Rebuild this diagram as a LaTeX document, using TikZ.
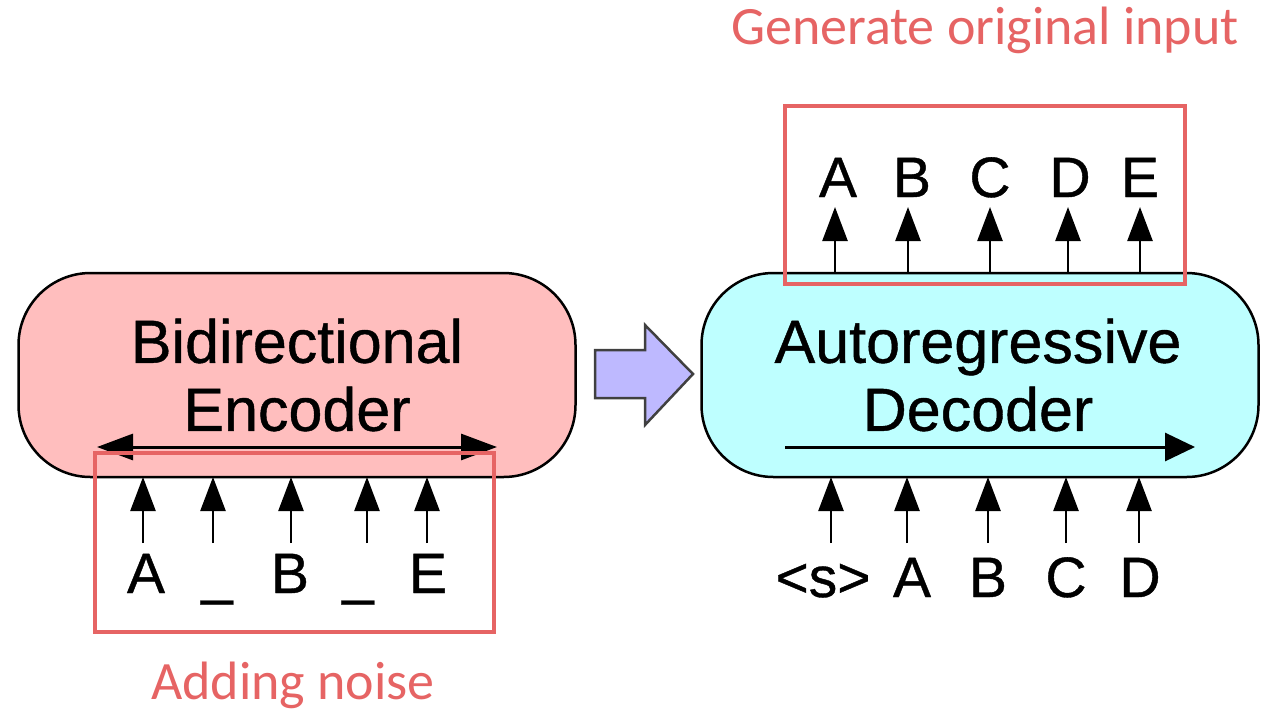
\documentclass[tikz,border=0pt]{standalone}
\usepackage{fontspec}
\setmainfont{Liberation Sans}
\newfontfamily\calfont{Carlito}
\newfontfamily\heavyfont{Liberation Sans}[FakeBold=0.7]
\usetikzlibrary{arrows.meta}
\definecolor{encfill}{RGB}{255,190,190}
\definecolor{decfill}{RGB}{190,255,255}
\definecolor{arrfill}{RGB}{190,185,255}
\definecolor{noisered}{RGB}{230,100,100}
\begin{document}
\begin{tikzpicture}[x=1pt,y=-1pt,
  blockbox/.style={draw=black, line width=2.5pt, rounded corners=72pt, minimum width=557pt, minimum height=204pt, inner sep=0pt},
  blocktext/.style={font=\heavyfont\fontsize{61}{68}\selectfont, align=center, inner sep=0pt},
  tok/.style={font=\heavyfont\fontsize{57}{60}\selectfont, text height=54pt, text depth=10pt, inner sep=0pt, anchor=base},
  tokarrow/.style={line width=2.5pt, -{Triangle[length=34pt,width=25pt]}},
  flowline/.style={line width=3pt},
  redbox/.style={draw=noisered, line width=4pt, inner sep=0pt},
  redlabel/.style={text=noisered, font=\calfont\fontsize{54}{58}\selectfont, inner sep=0pt}
]
\useasboundingbox (0,0) rectangle (1269,713);

% ---------- Encoder ----------
\node[blockbox, fill=encfill] (enc) at (297,375) {};
\node[blocktext] (enctxt) at (297,375) {Bidirectional\\Encoder};
\coordinate (bl) at (97,447);
\coordinate (br) at (497,447);
\draw[flowline, {Triangle[length=36pt,width=26pt]}-{Triangle[length=36pt,width=26pt]}] (bl) -- (br);

% encoder inputs
\node[tok] (e1) at (146,593) {A};
\node[tok] (e2) at (217,593) {\_};
\node[tok] (e3) at (290,593) {B};
\node[tok] (e4) at (358,593) {\_};
\node[tok] (e5) at (428,593) {E};
\foreach \x in {143,213,291,367,427}{
  \draw[tokarrow] (\x,543) -- (\x,477);
}

% noise box
\node[redbox, minimum width=399pt, minimum height=179pt] (noise) at (294.5,542.5) {};
\node[redlabel] (noiselbl) at (293,685) {Adding noise};

% ---------- Transfer arrow ----------
\draw[line width=2.5pt, draw=black!75, fill=arrfill]
  (595,350) -- (645,350) -- (645,325) -- (693,374) -- (645,425) -- (645,398) -- (595,398) -- cycle;

% ---------- Decoder ----------
\node[blockbox, fill=decfill] (dec) at (980,375) {};
\node[blocktext] (dectxt) at (978,375) {Autoregressive\\Decoder};
\coordinate (dl) at (785,447);
\coordinate (dr) at (1195,447);
\draw[flowline, -{Triangle[length=30pt,width=28pt]}] (dl) -- (dr);

% decoder inputs
\node[tok] (d1) at (823,597) {<s>};
\node[tok] (d2) at (912,597) {A};
\node[tok] (d3) at (988,597) {B};
\node[tok] (d4) at (1066,597) {C};
\node[tok] (d5) at (1140,597) {D};
\foreach \x in {831,907,988,1066,1139}{
  \draw[tokarrow] (\x,543) -- (\x,477);
}

% decoder outputs
\node[tok] (o1) at (838,197) {A};
\node[tok] (o2) at (912,197) {B};
\node[tok] (o3) at (990,197) {C};
\node[tok] (o4) at (1070,197) {D};
\node[tok] (o5) at (1140,197) {E};
\foreach \x in {835,908,990,1068,1140}{
  \draw[tokarrow] (\x,273) -- (\x,207);
}

% generate box
\node[redbox, minimum width=400pt, minimum height=178pt] (gen) at (985,195) {};
\node[redlabel] (genlbl) at (985,30) {Generate original input};
\end{tikzpicture}
\end{document}
